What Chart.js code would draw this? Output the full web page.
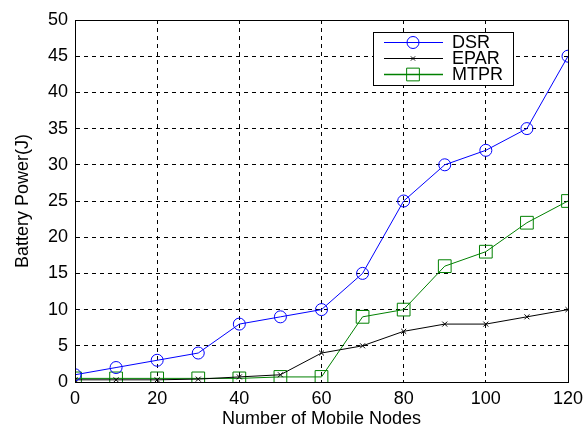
<!DOCTYPE html>
<html>
<head>
<meta charset="utf-8">
<script src="https://cdn.jsdelivr.net/npm/chart.js@4"></script>
<style>
  html, body { margin: 0; padding: 0; background: #fff; }
  #wrap { width: 586px; height: 428px; }
</style>
</head>
<body>
<div id="wrap"><canvas id="c" width="586" height="428"></canvas></div>
<script>
// Number of mobile nodes
const nodes = [0, 10, 20, 30, 40, 50, 60, 70, 80, 90, 100, 110, 120];
// Battery power consumed (J) per protocol
const dsr  = [1, 2, 3, 4, 8, 9, 10, 15, 25, 30, 32, 35, 45];
const epar = [0.3, 0.3, 0.3, 0.4, 0.7, 1, 4, 5, 7, 8, 8, 9, 10];
const mtpr = [0.5, 0.5, 0.5, 0.5, 0.5, 0.7, 0.7, 9, 10, 16, 18, 22, 25];

const xTicks = [0, 20, 40, 60, 80, 100, 120];
const yTicks = [0, 5, 10, 15, 20, 25, 30, 35, 40, 45, 50];

const FONT = 'Liberation Sans, Arial, sans-serif';

function series(label, values, color, style, radius) {
  return {
    label,
    data: nodes.map((n, i) => ({ x: n, y: values[i] })),
    borderColor: color,
    backgroundColor: 'rgba(0,0,0,0)',
    borderWidth: 1,
    pointStyle: style,
    pointRadius: radius,
    pointBorderColor: color,
    pointBorderWidth: 1,
    pointBackgroundColor: 'rgba(0,0,0,0)',
    tension: 0
  };
}

// Box around the plot area plus the inline legend panel
const framePlugin = {
  id: 'frame',
  afterDatasetsDraw(chart) {
    const { ctx, chartArea: a } = chart;
    ctx.save();
    ctx.strokeStyle = '#000';
    ctx.lineWidth = 1;
    ctx.setLineDash([]);
    ctx.strokeRect(a.left + 0.5, a.top + 0.5, a.right - a.left, a.bottom - a.top);

    // legend panel
    const bx = 373, by = 32, bw = 140, bh = 53;
    ctx.fillStyle = '#fff';
    ctx.fillRect(bx, by, bw, bh);
    ctx.strokeRect(bx + 0.5, by + 0.5, bw, bh);
    const rows = [42, 58, 74];
    const sizes = [6, 3, 9];
    ctx.font = '18px ' + FONT;
    ctx.textBaseline = 'middle';
    chart.data.datasets.forEach((ds, i) => {
      const y = rows[i] + 0.5;
      ctx.strokeStyle = ds.borderColor;
      ctx.lineWidth = i === 2 ? 1.5 : 1;
      ctx.beginPath();
      ctx.moveTo(384, y);
      ctx.lineTo(443, y);
      ctx.stroke();
      ctx.lineWidth = 1;
      ctx.fillStyle = 'rgba(0,0,0,0)';
      Chart.helpers.drawPoint(ctx, {
        pointStyle: ds.pointStyle,
        radius: sizes[i],
        rotation: 0,
        borderWidth: 1
      }, 413, y);
      ctx.fillStyle = '#000';
      ctx.fillText(ds.label, 452, rows[i] + 1);
    });
    ctx.restore();
  }
};

new Chart(document.getElementById('c'), {
  type: 'line',
  data: {
    datasets: [
      series('DSR', dsr, '#0000ff', 'circle', 6),
      series('EPAR', epar, '#000000', 'crossRot', 3.5),
      series('MTPR', mtpr, '#008000', 'rect', 9)
    ]
  },
  options: {
    responsive: false,
    animation: false,
    layout: { padding: { left: 12, top: 20, right: 18, bottom: 0 } },
    plugins: { legend: { display: false }, tooltip: { enabled: false } },
    scales: {
      x: {
        type: 'linear',
        min: 0, max: 120,
        afterBuildTicks(scale) { scale.ticks = xTicks.map(v => ({ value: v })); },
        afterFit(scale) {
          scale.height = 46;
          scale.paddingLeft = 0;
          scale.paddingRight = 0;
        },
        grid: { color: '#000', lineWidth: 1, drawTicks: false },
        border: { display: true, color: '#000', dash: [4, 4] },
        ticks: { color: '#000', font: { family: FONT, size: 18 }, padding: 6, maxRotation: 0 },
        title: { display: true, text: 'Number of Mobile Nodes', color: '#000',
                 font: { family: FONT, size: 18, lineHeight: 1.0 }, padding: { top: 0, bottom: 0 } }
      },
      y: {
        type: 'linear',
        min: 0, max: 50,
        afterBuildTicks(scale) { scale.ticks = yTicks.map(v => ({ value: v })); },
        afterFit(scale) {
          scale.width = 63;
          scale.paddingTop = 0;
          scale.paddingBottom = 0;
        },
        grid: { color: '#000', lineWidth: 1, drawTicks: false },
        border: { display: true, color: '#000', dash: [4, 4] },
        ticks: { color: '#000', font: { family: FONT, size: 18 }, padding: 7 },
        title: { display: true, text: 'Battery Power(J)', color: '#000',
                 font: { family: FONT, size: 18 }, padding: { top: 0, bottom: 0 } }
      }
    }
  },
  plugins: [framePlugin]
});
</script>
</body>
</html>
